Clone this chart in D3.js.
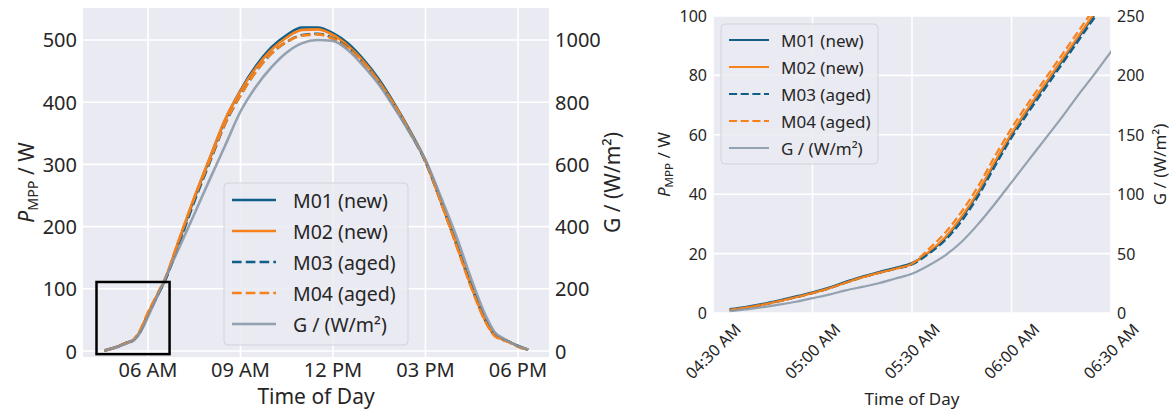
<!DOCTYPE html>
<html>
<head>
<meta charset="utf-8">
<script src="https://cdn.jsdelivr.net/npm/d3@7"></script>
<style>
  body { margin: 0; background: #fff; }
  text { font-family: "Noto Sans", sans-serif; fill: #262626; }
</style>
</head>
<body>
<script>
// time stamps (local time) shared by every series
let times = ["04:35", "04:40", "04:45", "04:50", "04:55", "05:00", "05:05", "05:10", "05:15", "05:20", "05:25", "05:30",
  "05:35", "05:40", "05:45", "05:50", "05:55", "06:00", "06:05", "06:10", "06:15", "06:20", "06:25", "06:30",
  "07:00", "07:30", "08:00", "08:30", "09:00", "09:30", "10:00", "10:30", "11:00", "11:30", "12:00", "12:30",
  "13:00", "13:30", "14:00", "14:30", "15:00", "15:30", "16:00", "16:30", "17:00", "17:15", "17:30", "17:45", "18:00", "18:20"];

// P_MPP in W
let m01 = [1.3, 2.1, 3.1, 4.3, 5.6, 7.0, 8.6, 10.5, 12.3, 13.8, 15.2, 16.8,
  20.3, 25.2, 32.0, 40.5, 50.4, 60.0, 68.4, 76.4, 84.4, 92.4, 100.4, 108.4,
  176, 245, 309, 371, 419, 458, 488, 508, 520, 520, 511, 494,
  468, 436, 397, 354, 306, 241, 173, 103, 44, 26, 19, 14, 8, 2];
let m02 = [1.0, 1.8, 2.8, 4.0, 5.3, 6.7, 8.3, 10.2, 12.0, 13.5, 14.9, 16.5,
  20.5, 25.5, 32.5, 41.0, 51.0, 60.5, 69.0, 77.0, 85.0, 93.0, 101.0, 109.0,
  178, 247, 310, 372, 418, 455, 484, 504, 516, 517, 508, 490,
  465, 433, 395, 352, 305, 240, 172, 102, 43, 25, 19, 14, 8, 2];
let m03 = [1.0, 1.8, 2.8, 4.0, 5.3, 6.7, 8.3, 10.2, 12.0, 13.5, 14.9, 16.3,
  19.9, 24.5, 31.0, 39.4, 49.4, 59.0, 67.4, 75.4, 83.4, 91.4, 99.4, 107.4,
  172, 240, 303, 365, 411, 449, 478, 497, 508, 510, 503, 487,
  462, 431, 393, 351, 304, 240, 172, 103, 44, 25, 19, 14, 8, 2];
let m04 = [1.0, 1.8, 2.8, 4.0, 5.3, 6.7, 8.3, 10.2, 12.0, 13.5, 14.9, 16.6,
  21.5, 27.0, 34.2, 42.8, 52.8, 62.2, 70.6, 78.6, 86.6, 94.6, 102.6, 110.6,
  178, 245, 306, 366, 411, 449, 478, 497, 507, 509, 502, 486,
  462, 431, 394, 352, 305, 239, 170, 100, 42, 24, 18, 13, 7, 2];
// irradiance G in W/m²
let irr = [1.5, 3, 5, 7, 9.5, 12.5, 15.5, 19, 22, 25, 29, 33,
  40, 48.5, 60, 75, 92, 110, 128, 146, 164, 183, 201, 220,
  330, 440, 551, 660, 770, 850, 912, 960, 990, 1000, 997, 966,
  915, 855, 780, 700, 615, 495, 370, 228, 104, 60, 42, 28, 16, 4];

let seriesNames = ["M01 (new)", "M02 (new)", "M03 (aged)", "M04 (aged)", "G / (W/m²)"];

let leftXTicks = [6, 9, 12, 15, 18];
let leftXLabels = ["06 AM", "09 AM", "12 PM", "03 PM", "06 PM"];
let leftPTicks = [0, 100, 200, 300, 400, 500];
let leftGTicks = [0, 200, 400, 600, 800, 1000];
let rightXTicks = [4.5, 5, 5.5, 6, 6.5];
let rightXLabels = ["04:30 AM", "05:00 AM", "05:30 AM", "06:00 AM", "06:30 AM"];
let rightPTicks = [0, 20, 40, 60, 80, 100];
let rightGTicks = [0, 50, 100, 150, 200, 250];

// zoom window marked on the left panel (hours, W)
let zoomBoxX = [4.33, 6.7];
let zoomBoxY = [-5, 111];

let hours = times.map(t => { let p = t.split(":"); return +p[0] + p[1] / 60; });

let blue = "#115e87", orange = "#f7821c", grey = "#8494a4";
let styles = [
  { values: m01, color: blue, dash: false, axis: "p" },
  { values: m02, color: orange, dash: false, axis: "p" },
  { values: m03, color: blue, dash: true, axis: "p" },
  { values: m04, color: orange, dash: true, axis: "p" },
  { values: irr, color: grey, dash: false, axis: "g" }
];

let svg = d3.select("body").append("svg")
  .attr("width", 1173).attr("height", 413);

function drawPanel(o) {
  let x = d3.scaleLinear().domain(o.xDomain).range([o.left, o.right]);
  let yP = d3.scaleLinear().domain(o.pDomain).range([o.bottom, o.top]);
  let yG = d3.scaleLinear().domain(o.gDomain).range([o.bottom, o.top]);
  let g = svg.append("g");

  g.append("rect").attr("x", o.left).attr("y", o.top)
    .attr("width", o.right - o.left).attr("height", o.bottom - o.top)
    .attr("fill", "#eaeaf2");

  let clipId = "clip" + o.id;
  g.append("clipPath").attr("id", clipId).append("rect")
    .attr("x", o.left).attr("y", o.top)
    .attr("width", o.right - o.left).attr("height", o.bottom - o.top);

  // grid
  g.selectAll(".gx").data(o.xTicks).enter().append("line")
    .attr("x1", d => x(d)).attr("x2", d => x(d))
    .attr("y1", o.top).attr("y2", o.bottom)
    .attr("stroke", "#fff").attr("stroke-width", 1.6);
  g.selectAll(".gy").data(o.pTicks).enter().append("line")
    .attr("x1", o.left).attr("x2", o.right)
    .attr("y1", d => yP(d)).attr("y2", d => yP(d))
    .attr("stroke", "#fff").attr("stroke-width", 1.6);

  // tick labels
  g.selectAll(".tp").data(o.pTicks).enter().append("text")
    .attr("x", o.left - o.pad).attr("y", d => yP(d))
    .attr("text-anchor", "end").attr("dominant-baseline", "central")
    .attr("font-size", o.fs).text(d => d);
  g.selectAll(".tg").data(o.gTicks).enter().append("text")
    .attr("x", o.right + o.pad).attr("y", d => yG(d))
    .attr("text-anchor", "start").attr("dominant-baseline", "central")
    .attr("font-size", o.fs).text(d => d);
  if (o.rotate) {
    g.selectAll(".tx").data(o.xTicks).enter().append("text")
      .attr("transform", d => "translate(" + x(d) + "," + (o.bottom + 38) + ") rotate(-45)")
      .attr("text-anchor", "middle").attr("dominant-baseline", "central")
      .attr("font-size", o.fs).text((d, i) => o.xLabels[i]);
  } else {
    g.selectAll(".tx").data(o.xTicks).enter().append("text")
      .attr("x", d => x(d)).attr("y", o.bottom + 20)
      .attr("text-anchor", "middle")
      .attr("font-size", o.fs).text((d, i) => o.xLabels[i]);
  }

  // axis labels
  g.append("text").attr("x", (o.left + o.right) / 2).attr("y", o.xLabelY)
    .attr("text-anchor", "middle").attr("font-size", o.lfs).text("Time of Day");
  let pl = g.append("text")
    .attr("transform", "translate(" + o.pLabelX + "," + (o.top + o.bottom) / 2 + ") rotate(-90)")
    .attr("text-anchor", "middle").attr("font-size", o.lfs);
  pl.append("tspan").attr("font-style", "italic").text("P");
  pl.append("tspan").attr("font-size", o.lfs * 0.68).attr("dy", o.lfs * 0.2).text("MPP");
  pl.append("tspan").attr("dy", -o.lfs * 0.2).text(" / W");
  g.append("text")
    .attr("transform", "translate(" + o.gLabelX + "," + (o.top + o.bottom) / 2 + ") rotate(-90)")
    .attr("text-anchor", "middle").attr("font-size", o.lfs).text("G / (W/m²)");

  // lines
  let plot = g.append("g").attr("clip-path", "url(#" + clipId + ")");
  styles.forEach(s => {
    let ys = s.axis === "p" ? yP : yG;
    let line = d3.line().curve(d3.curveMonotoneX)
      .x((d, i) => x(hours[i])).y(d => ys(d));
    plot.append("path").datum(s.values)
      .attr("d", line)
      .attr("fill", "none")
      .attr("stroke", s.color)
      .attr("stroke-width", o.lw)
      .attr("stroke-opacity", s.axis === "g" ? 0.85 : 1)
      .attr("stroke-dasharray", s.dash ? (o.lw * 3.7) + "," + (o.lw * 1.6) : null);
  });

  if (o.box) {
    g.append("rect")
      .attr("x", x(zoomBoxX[0])).attr("y", yP(zoomBoxY[1]))
      .attr("width", x(zoomBoxX[1]) - x(zoomBoxX[0]))
      .attr("height", yP(zoomBoxY[0]) - yP(zoomBoxY[1]))
      .attr("fill", "none").attr("stroke", "#000").attr("stroke-width", 2.5);
  }

  // legend
  let L = o.legend;
  g.append("rect").attr("x", L.x).attr("y", L.y).attr("width", L.w).attr("height", L.h)
    .attr("rx", 4).attr("fill", "#eaeaf2").attr("fill-opacity", 0.85)
    .attr("stroke", "#d2d2da").attr("stroke-width", 1);
  seriesNames.forEach((name, i) => {
    let s = styles[i];
    let ry = L.y + L.first + i * L.row;
    g.append("line").attr("x1", L.x + 8).attr("x2", L.x + 8 + L.len)
      .attr("y1", ry).attr("y2", ry)
      .attr("stroke", s.color).attr("stroke-width", o.lw)
      .attr("stroke-opacity", s.axis === "g" ? 0.85 : 1)
      .attr("stroke-dasharray", s.dash ? (o.lw * 3.7) + "," + (o.lw * 1.6) : null);
    g.append("text").attr("x", L.x + L.textDx).attr("y", ry)
      .attr("dominant-baseline", "central").attr("font-size", L.fs).text(name);
  });
}

drawPanel({
  id: "L", left: 83, right: 549, top: 8, bottom: 357,
  xDomain: [3.892, 19.007], pDomain: [-9.6, 551.4], gDomain: [-19.2, 1102.8],
  xTicks: leftXTicks, xLabels: leftXLabels, pTicks: leftPTicks, gTicks: leftGTicks,
  fs: 20, lfs: 21, pad: 6, lw: 2.6, rotate: false, box: true,
  xLabelY: 404, pLabelX: 34, gLabelX: 620,
  legend: { x: 224, y: 183, w: 184, h: 162, first: 17, row: 31, len: 44, textDx: 69, fs: 19.5 }
});

drawPanel({
  id: "R", left: 713, right: 1111, top: 16, bottom: 313,
  xDomain: [4.5, 6.5], pDomain: [0, 100], gDomain: [0, 250],
  xTicks: rightXTicks, xLabels: rightXLabels, pTicks: rightPTicks, gTicks: rightGTicks,
  fs: 16, lfs: 17, pad: 6, lw: 2.2, rotate: true, box: false,
  xLabelY: 405, pLabelX: 670, gLabelX: 1166,
  legend: { x: 721, y: 24, w: 157, h: 140, first: 16, row: 27, len: 40, textDx: 60, fs: 17 }
});
</script>
</body>
</html>
